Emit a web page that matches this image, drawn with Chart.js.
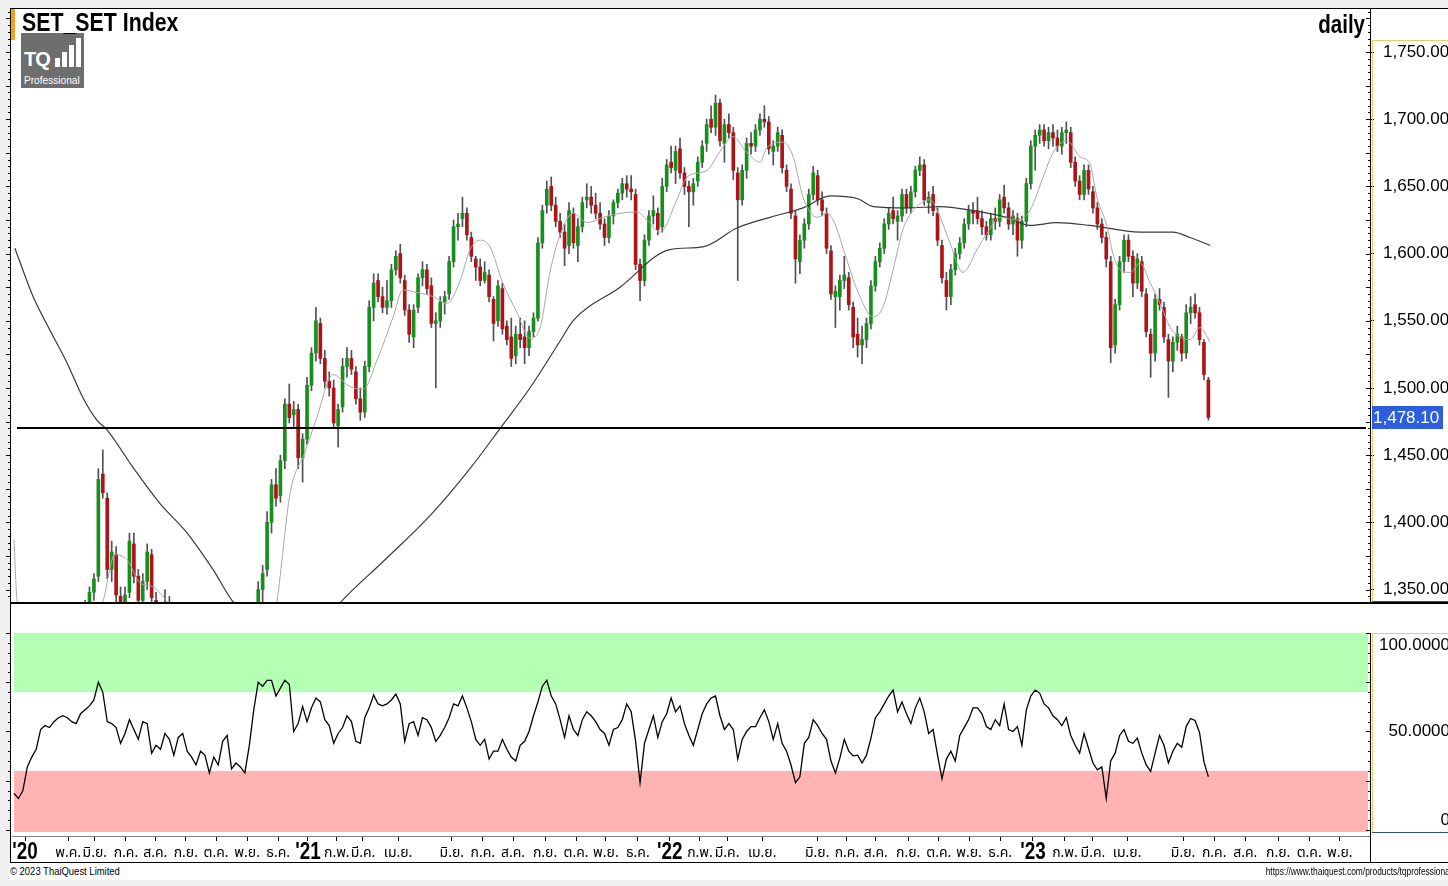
<!DOCTYPE html>
<html>
<head>
<meta charset="utf-8">
<script src="https://cdn.jsdelivr.net/npm/chart.js@4.4.0/dist/chart.umd.min.js"></script>
<style>
  html, body { margin: 0; padding: 0; width: 1448px; height: 886px; overflow: hidden; background: #f0f0f0; font-family: "Liberation Sans", Arial, sans-serif; }
  #sheet { position: absolute; left: 10px; top: 8px; width: 1438px; height: 872px; background: #fff; }
  canvas { position: absolute; left: 0; }
  #priceCanvas { top: 8px; }
  #rsiCanvas { top: 603px; }
  .ln { position: absolute; background: #000; }
  #title { position: absolute; left: 22px; top: 8px; font-weight: bold; font-size: 26px; line-height: 28px; transform: scaleX(0.82); transform-origin: left top; white-space: nowrap; z-index: 2; }
  #period { position: absolute; right: 83px; top: 10px; font-weight: bold; font-size: 25px; line-height: 28px; transform: scaleX(0.82); transform-origin: right top; }
  #accent { position: absolute; left: 11px; top: 9px; width: 4px; height: 31px; background: #f0a020; }
  #logo { position: absolute; left: 21px; top: 33px; width: 63px; height: 55px; background: #6e6e6e; color: #fff; overflow: hidden; z-index: 1; }
  #logo .tq { position: absolute; left: 3px; top: 15px; font-weight: bold; font-size: 20px; letter-spacing: -1px; }
  #logo .pro { position: absolute; left: 3px; top: 41px; font-size: 11px; transform: scaleX(0.92); transform-origin: left top; }
  #logo i { position: absolute; background: #fff; width: 5px; }
  .foot { position: absolute; top: 864px; font-size: 11px; line-height: 14px; white-space: nowrap; color: #000; }
  #copy { left: 10px; transform: scaleX(0.86); transform-origin: left top; }
  #url { right: -4px; transform: scaleX(0.76); transform-origin: right top; }
</style>
</head>
<body>
<div id="sheet"></div>
<canvas id="priceCanvas" width="1448" height="595"></canvas>
<canvas id="rsiCanvas" width="1448" height="259"></canvas>
<div class="ln" style="left:10px;top:8px;width:1438px;height:1px"></div>
<div class="ln" style="left:10px;top:8px;width:1px;height:855px"></div>
<div class="ln" style="left:10px;top:602px;width:1438px;height:2px"></div>
<div class="ln" style="left:10px;top:862px;width:1438px;height:1px"></div>
<div class="ln" style="left:1370px;top:836px;width:1px;height:26px"></div>
<div id="accent"></div>
<div id="logo">
  <span class="tq">TQ</span>
  <i style="left:34px;top:25px;height:9px"></i>
  <i style="left:41px;top:19px;height:15px"></i>
  <i style="left:48px;top:12px;height:22px"></i>
  <i style="left:55px;top:5px;height:29px"></i>
  <span class="pro">Professional</span>
</div>
<div id="title">SET_SET Index</div>
<div id="period">daily</div>
<div class="foot" id="copy">© 2023 ThaiQuest Limited</div>
<div class="foot" id="url">https://www.thaiquest.com/products/tqprofessional</div>

<script>
// ค่าแท่งเทียนอ่านจากภาพ (1 แท่ง = ประมาณ 3 วันทำการ)
const openPrices = [
  1250,1256,1265,1278,1270,1280,1295,1285,1275,1288,
  1298,1306,1300,1295,1312,1320,1328,1336,1348,1360,
  1436,1418,1365,1376,1345,1338,1348,1384,1360,1342,
  1356,1376,1342,1328,1334,1340,1320,1315,1305,1312,
  1306,1295,1282,1272,1280,1270,1255,1260,1242,1235,
  1240,1222,1210,1215,1200,1260,1350,1365,1400,1428,
  1420,1446,1488,1480,1484,1448,1462,1502,1526,1548,
  1522,1505,1500,1472,1486,1516,1522,1512,1492,1482,
  1516,1560,1580,1568,1560,1565,1588,1600,1580,1558,
  1538,1560,1582,1588,1576,1548,1550,1564,1570,1594,
  1620,1626,1630,1612,1596,1590,1580,1584,1566,1550,
  1574,1546,1538,1524,1540,1538,1530,1542,1552,1608,
  1636,1650,1636,1624,1616,1606,1630,1606,1620,1640,
  1642,1636,1630,1622,1612,1628,1638,1645,1652,1648,
  1644,1592,1580,1610,1628,1630,1620,1650,1668,1662,
  1678,1660,1650,1646,1654,1668,1682,1700,1694,1712,
  1682,1696,1690,1660,1640,1662,1682,1680,1692,1700,
  1698,1676,1680,1688,1662,1648,1628,1594,1610,1622,
  1644,1658,1640,1630,1602,1568,1568,1580,1582,1560,
  1540,1532,1536,1548,1576,1594,1604,1622,1632,1624,
  1628,1644,1634,1646,1662,1666,1638,1644,1630,1606,
  1580,1568,1588,1600,1608,1622,1632,1632,1626,1620,
  1614,1626,1624,1642,1634,1622,1626,1610,1624,1652,
  1680,1688,1692,1684,1690,1686,1680,1690,1690,1668,
  1654,1644,1662,1646,1634,1622,1612,1594,1532,1562,
  1594,1610,1598,1578,1594,1570,1540,1526,1566,1560,
  1536,1520,1534,1538,1526,1556,1562,1556,1534,1506
];
const highPrices = [
  1262,1270,1282,1290,1285,1300,1305,1296,1290,1302,
  1312,1318,1310,1315,1325,1332,1342,1352,1362,1440,
  1454,1422,1386,1382,1352,1352,1392,1392,1365,1362,
  1384,1380,1348,1340,1350,1345,1330,1325,1318,1322,
  1315,1302,1290,1285,1290,1278,1266,1268,1252,1248,
  1250,1232,1222,1225,1262,1356,1368,1408,1432,1440,
  1450,1492,1503,1490,1488,1466,1508,1530,1560,1552,
  1528,1512,1506,1488,1522,1530,1528,1516,1500,1520,
  1565,1585,1585,1575,1580,1592,1602,1607,1584,1562,
  1562,1585,1594,1592,1582,1556,1568,1572,1598,1625,
  1630,1642,1634,1616,1598,1596,1594,1588,1568,1580,
  1578,1550,1552,1546,1552,1550,1546,1556,1612,1636,
  1654,1657,1642,1630,1622,1638,1634,1626,1642,1652,
  1650,1645,1638,1626,1632,1640,1648,1656,1658,1658,
  1648,1596,1614,1632,1643,1634,1656,1670,1680,1680,
  1686,1664,1654,1656,1672,1684,1700,1710,1718,1715,
  1700,1704,1694,1664,1666,1686,1690,1696,1704,1710,
  1702,1684,1694,1692,1666,1652,1632,1614,1626,1648,
  1665,1662,1646,1634,1606,1576,1584,1598,1586,1564,
  1552,1546,1552,1580,1598,1608,1626,1634,1642,1632,
  1648,1648,1650,1665,1672,1670,1646,1650,1634,1610,
  1586,1592,1604,1612,1626,1636,1638,1642,1632,1624,
  1630,1634,1644,1651,1638,1632,1630,1628,1656,1684,
  1692,1696,1696,1694,1696,1692,1694,1698,1694,1672,
  1658,1666,1666,1650,1638,1626,1616,1598,1566,1598,
  1614,1614,1602,1600,1598,1574,1544,1570,1574,1564,
  1540,1538,1546,1540,1562,1568,1570,1560,1536,1508
];
const lowPrices = [
  1240,1248,1258,1265,1262,1272,1280,1270,1268,1280,
  1290,1296,1288,1290,1305,1312,1322,1330,1342,1356,
  1418,1358,1356,1340,1328,1330,1344,1355,1336,1338,
  1350,1338,1322,1318,1328,1315,1308,1300,1296,1300,
  1290,1278,1268,1262,1266,1250,1244,1238,1228,1225,
  1218,1205,1198,1195,1195,1255,1340,1360,1392,1412,
  1415,1440,1474,1470,1440,1430,1458,1498,1520,1518,
  1500,1494,1470,1456,1482,1508,1510,1488,1476,1478,
  1512,1550,1564,1556,1555,1560,1584,1578,1554,1534,
  1530,1556,1576,1570,1545,1500,1545,1555,1566,1590,
  1610,1620,1610,1594,1580,1576,1578,1564,1535,1546,
  1540,1532,1516,1518,1530,1518,1524,1538,1550,1604,
  1630,1632,1620,1612,1591,1600,1604,1594,1616,1634,
  1630,1626,1618,1606,1608,1622,1634,1640,1642,1640,
  1588,1565,1576,1606,1622,1614,1616,1646,1660,1652,
  1656,1644,1620,1636,1650,1664,1676,1690,1688,1680,
  1668,1686,1655,1580,1636,1656,1674,1676,1688,1694,
  1674,1666,1676,1660,1646,1626,1578,1585,1604,1618,
  1640,1636,1628,1600,1566,1545,1558,1574,1558,1530,
  1523,1518,1530,1544,1572,1590,1600,1618,1622,1610,
  1624,1630,1630,1642,1658,1636,1630,1628,1606,1578,
  1558,1562,1584,1596,1604,1618,1622,1622,1614,1610,
  1610,1618,1620,1630,1618,1614,1598,1604,1620,1648,
  1662,1682,1680,1678,1680,1676,1674,1682,1664,1650,
  1640,1640,1644,1630,1618,1608,1590,1519,1526,1558,
  1586,1594,1568,1574,1568,1538,1508,1520,1558,1534,
  1493,1512,1528,1520,1522,1548,1552,1532,1506,1476
];
const closePrices = [
  1256,1265,1278,1270,1280,1295,1285,1275,1288,1298,
  1306,1300,1295,1312,1320,1328,1336,1348,1358,1432,
  1422,1365,1378,1346,1338,1346,1386,1360,1342,1356,
  1378,1344,1328,1334,1340,1320,1315,1305,1312,1306,
  1295,1282,1272,1280,1270,1255,1260,1242,1235,1240,
  1222,1210,1215,1200,1258,1350,1362,1400,1428,1418,
  1446,1488,1478,1484,1448,1462,1502,1526,1550,1522,
  1505,1500,1474,1484,1516,1522,1514,1492,1482,1516,
  1560,1578,1568,1560,1565,1588,1598,1582,1558,1540,
  1558,1582,1588,1574,1548,1550,1564,1568,1594,1620,
  1622,1630,1614,1598,1590,1580,1586,1568,1548,1576,
  1544,1536,1522,1540,1536,1530,1542,1552,1608,1632,
  1648,1636,1624,1616,1604,1632,1608,1620,1638,1642,
  1636,1630,1622,1612,1628,1638,1645,1652,1648,1646,
  1592,1580,1610,1628,1632,1618,1650,1666,1664,1676,
  1660,1650,1646,1652,1668,1680,1696,1694,1712,1684,
  1696,1690,1662,1640,1662,1682,1680,1692,1700,1698,
  1678,1680,1690,1664,1650,1630,1596,1610,1622,1644,
  1660,1640,1632,1604,1570,1572,1580,1584,1562,1538,
  1532,1536,1548,1576,1594,1604,1622,1630,1626,1628,
  1644,1634,1646,1662,1666,1640,1642,1632,1610,1582,
  1568,1588,1600,1608,1622,1632,1630,1626,1620,1614,
  1626,1624,1640,1634,1622,1628,1610,1624,1652,1680,
  1688,1692,1684,1690,1686,1680,1690,1692,1668,1654,
  1644,1662,1648,1634,1622,1612,1596,1530,1562,1594,
  1610,1598,1578,1596,1572,1542,1526,1566,1562,1538,
  1520,1534,1540,1526,1556,1560,1556,1536,1510,1478.1
];
const rsiValues = [
  18.6,16,20,32,37,41,51,53,52,55,
  57,58,57,55,54,59,61,63,66,75,
  70,55,54,52,44,49,56,51,46,55,
  54,39,43,41,49,46,38,47,49,40,
  37,33,40,38,29,37,33,45,48,31,
  34,32,29,43,61,75,73,76,76,68,
  72,76,74,50,54,62.7,55,62,67,65,
  56,53,44,49,52,58,55,45,44,57,
  62,68.6,64,63,64,66,69,64,45,54,
  55,48,57,56,52,45,48,52,57,64,
  63,68,62,55,46,43,46,36,40,40,
  46,41,37,35,43,45,50,58,65,73,
  76,68,64,56,47,58,51,48,56,60,
  58,55,51,49,43,51,52,56,64,60,
  45,24,44,51,58,47,55,59,67,60,
  63,54,48,43,51,59,64,67,68,58,
  51,54,51,36,46,50,52.5,52.5,57,61,
  55,46,54,44,40,33,24,27,44,47,
  56,53,49,46,35,29,36.5,46,40,37.6,
  38,34,38,46.6,57,60,64,68,71,60,
  65,59,54,62,67,60,49,51,38,26,
  36,40,35,48,52,56,62,62,59,52.5,
  51,56,53,64,51,50,52.5,43,61,68,
  71,69.5,64,62,58,56,53,57,48,43,
  39,49,41.5,34,30.5,32,16,35,39,48,
  51,45,44,46.6,39,33,29.7,39,48,43,
  34,40,44,42,52.5,56.6,55.6,49.5,34.6,27
];

// เส้นค่าเฉลี่ย (ตำแหน่งแท่ง, ค่า) อ่านจากภาพ
const maShortIdx = [0,0.7,6,12,18,20,22.7,25.5,28.4,31.3,34.5,40,46,52,59.2,62.2,65.5,68.2,71.8,75.7,
  78.6,81.8,85.4,87.6,90.8,94.4,97.5,100.5,102.7,105,107.2,110.1,113.3,116.2,118.5,120.7,123,125.9,129.1,132.7,
  136.5,140.3,142.6,145.5,149.3,151.6,156.1,159,161.9,165.1,168,169.6,173.2,175.5,177.7,180.9,183.1,184.5,187.6,189.9,
  193.5,195.7,198,200.2,202.5,206.3,208.6,210.8,213.7,216.9,219.1,222.1,225.9,228.8,231.8,234,237.2,240.1,242.3,243.9,
  246.2,247.5,249.1,251.4,253.6,255.9,258.1,260.4,262.6,264.9,267.1,269.4];
const maShortVal = [1387,1341,1290,1295,1330,1341,1376,1372,1355,1352,1341,1320,1280,1235,1341,1422,1452,1478,1510,1501,
  1499,1521,1553,1573,1571,1568,1563,1580,1603,1610,1605,1578,1556,1537,1545,1586,1614,1630,1623,1627,
  1630,1631,1625,1616,1640,1657,1662,1676,1687,1675,1668,1679,1683,1672,1642,1627,1630,1625,1595,1573,
  1553,1560,1588,1618,1632,1640,1627,1608,1586,1603,1615,1627,1625,1632,1657,1675,1684,1672,1667,1642,
  1620,1600,1588,1586,1593,1578,1563,1545,1538,1536,1545,1534];
const maLongIdx = [0.2,4.3,8.1,11.9,15.5,18.7,20.9,26.8,32.9,39,44.8,49.3,55,62,68,73.4,83.5,93.7,102.7,109.5,
  116.2,123,125.9,136.5,147.7,155.2,162.8,170.3,177.7,183.8,189.9,193.5,201.1,208.6,216,223.6,228.8,234.9,242.3,253.6,
  261,264.9,269.4];
const maLongVal = [1604,1568,1543,1519,1493,1476,1469,1441,1414,1392,1365,1341,1322,1312,1318,1340,1372,1405,1440,1470,
  1500,1535,1550,1575,1603,1605,1619,1627,1634,1643,1641,1635,1634,1635,1632,1627,1621,1623,1621,1616,
  1616,1612,1606];

// ป้ายเดือนบนแกนเวลา
const monthTickIdx = [2.5,12.2,18.2,25.2,31.8,38.7,45.5,52.5,59.5,66.2,72.7,78.6,86.5,98.6,105.6,112.4,119.6,126.6,133.3,140.5,
  147.7,154.5,160.6,168.5,180.9,187.6,194.1,201.4,208.3,215.1,222.1,229.5,236.7,243,250.7,263.3,270.3,277.3,284.7,291.7,298.6];
const monthTickLabels = ["'20","พ.ค.","มิ.ย.","ก.ค.","ส.ค.","ก.ย.","ต.ค.","พ.ย.","ธ.ค.","'21","ก.พ.","มี.ค.","เม.ย.",
  "มิ.ย.","ก.ค.","ส.ค.","ก.ย.","ต.ค.","พ.ย.","ธ.ค.","'22","ก.พ.","มี.ค.","เม.ย.","มิ.ย.","ก.ค.","ส.ค.","ก.ย.","ต.ค.","พ.ย.","ธ.ค.",
  "'23","ก.พ.","มี.ค.","เม.ย.","มิ.ย.","ก.ค.","ส.ค.","ก.ย.","ต.ค.","พ.ย."];

const priceTickValues = [1350,1400,1450,1500,1550,1600,1650,1700,1750];
const rsiTickValues = [100, 50, 0];
const supportLevel = 1470;
const rsiUpper = 70, rsiLower = 30;

const X_MIN = -0.45, X_MAX = 305.4;
const PRICE_MIN = 1340.03, PRICE_MAX = 1782.74;
const RSI_MIN = -3.05, RSI_MAX = 100;

const LABEL_FONT = '17px "Liberation Sans", Arial, sans-serif';
const THAI_FONT = '"Noto Sans Thai", "Noto Sans Thai UI", Loma, Garuda, Tahoma, "DejaVu Sans", sans-serif';
const fmtPrice = new Intl.NumberFormat('en-US', { minimumFractionDigits: 2, maximumFractionDigits: 2 });

function sideTicks(ctx, yScale, xRight, from, to, step, bigStep) {
    ctx.save();
    ctx.strokeStyle = '#000';
    ctx.lineWidth = 1;
    ctx.beginPath();
    for (let v = Math.ceil(from / step) * step; v <= to; v += step) {
        const py = Math.round(yScale.getPixelForValue(v)) + 0.5;
        const len = (v % bigStep === 0) ? 4 : 2;
        ctx.moveTo(xRight - len, py);
        ctx.lineTo(xRight, py);
    }
    ctx.stroke();
    ctx.restore();
}

const priceDecor = {
    id: 'priceDecor',
    afterDatasetsDraw(chart) {
        const { ctx, chartArea: a, scales: { y } } = chart;
        const py = Math.round(y.getPixelForValue(supportLevel));
        ctx.save();
        ctx.fillStyle = '#000';
        ctx.fillRect(a.left + 5, py - 1, a.right - a.left - 9, 2);
        ctx.restore();
    },
    afterDraw(chart) {
        const { ctx, chartArea: a, scales: { y } } = chart;
        // petits traits sur les bords
        sideTicks(ctx, y, 10, PRICE_MIN, PRICE_MAX, 5, 25);
        sideTicks(ctx, y, a.right, PRICE_MIN, PRICE_MAX, 5, 25);
        // cadre jaune de l'axe
        const boxTop = Math.round(y.getPixelForValue(priceTickValues[priceTickValues.length - 1])) - 12;
        ctx.save();
        ctx.fillStyle = '#e9c86a';
        ctx.fillRect(a.right + 2, boxTop, 1, a.bottom - boxTop);
        ctx.fillRect(a.right + 2, boxTop, chart.width - a.right, 1);
        ctx.fillStyle = '#2b4aa8';
        ctx.fillRect(a.right + 2, a.bottom - 2, chart.width - a.right, 1);
        // dernier cours
        const last = closePrices[closePrices.length - 1];
        const ly = y.getPixelForValue(last);
        ctx.fillStyle = '#2d5ee0';
        ctx.fillRect(a.right + 2, Math.round(ly) - 11, 71, 23);
        ctx.fillStyle = '#fff';
        ctx.font = LABEL_FONT;
        ctx.textBaseline = 'middle';
        ctx.textAlign = 'left';
        ctx.fillText(fmtPrice.format(last), a.right + 3, ly + 1);
        ctx.restore();
    }
};

const rsiDecor = {
    id: 'rsiDecor',
    beforeDatasetsDraw(chart) {
        const { ctx, chartArea: a, scales: { y } } = chart;
        const w = a.right - a.left - 4;
        ctx.save();
        ctx.fillStyle = '#b3ffb3';
        ctx.fillRect(a.left + 2, y.getPixelForValue(RSI_MAX), w, y.getPixelForValue(rsiUpper) - y.getPixelForValue(RSI_MAX));
        ctx.fillStyle = '#ffb3b3';
        ctx.fillRect(a.left + 2, y.getPixelForValue(rsiLower), w, y.getPixelForValue(0) - y.getPixelForValue(rsiLower) + 2);
        ctx.restore();
    },
    afterDraw(chart) {
        const { ctx, chartArea: a, scales: { x, y } } = chart;
        sideTicks(ctx, y, 10, 0, RSI_MAX, 5, 25);
        sideTicks(ctx, y, a.right, 0, RSI_MAX, 5, 25);
        ctx.save();
        ctx.fillStyle = '#e9c86a';
        const top = Math.round(y.getPixelForValue(RSI_MAX));
        const bottom = Math.round(y.getPixelForValue(0)) + 2;
        ctx.fillRect(a.right + 2, top, 1, bottom - top);
        ctx.fillRect(a.right + 2, top, chart.width - a.right, 1);
        ctx.fillStyle = '#2b4aa8';
        ctx.fillRect(a.right + 2, bottom, chart.width - a.right, 1);

        // étiquettes de l'axe RSI
        ctx.fillStyle = '#000';
        ctx.font = LABEL_FONT;
        ctx.textAlign = 'right';
        rsiTickValues.forEach(v => {
            const py = y.getPixelForValue(v);
            const text = v === 0 ? '0' : v.toFixed(4);
            if (v === RSI_MAX) { ctx.textBaseline = 'top'; ctx.fillText(text, 1450, py + 4); }
            else if (v === 0) { ctx.textBaseline = 'bottom'; ctx.fillText(text, 1450, py - 1); }
            else { ctx.textBaseline = 'middle'; ctx.fillText(text, 1450, py); }
        });

        // étiquettes des mois
        ctx.textAlign = 'center';
        ctx.textBaseline = 'alphabetic';
        monthTickIdx.forEach((v, i) => {
            const label = monthTickLabels[i];
            const px = x.getPixelForValue(v);
            if (label.startsWith("'")) {
                ctx.save();
                ctx.translate(px, 256);
                ctx.scale(0.82, 1);
                ctx.font = 'bold 23px "Liberation Sans Narrow", "Liberation Sans", Arial, sans-serif';
                ctx.fillText(label, 0, 0);
                ctx.restore();
            } else {
                ctx.font = '14px ' + THAI_FONT;
                ctx.fillText(label, px, 254);
            }
        });
        ctx.restore();
    }
};

const wickData = highPrices.map((h, i) => ({ x: i, y: [lowPrices[i], h] }));
const bodyData = openPrices.map((o, i) => ({ x: i, y: [o, closePrices[i]] }));
const bodyColors = openPrices.map((o, i) => closePrices[i] >= o ? '#15901d' : '#ad1419');

new Chart(document.getElementById('priceCanvas'), {
    type: 'bar',
    data: {
        datasets: [
            {
                type: 'line', data: maShortIdx.map((x, i) => ({ x, y: maShortVal[i] })),
                borderColor: '#a8a8a8', borderWidth: 1, pointRadius: 0,
                cubicInterpolationMode: 'monotone', order: 0, clip: 0
            },
            {
                type: 'line', data: maLongIdx.map((x, i) => ({ x, y: maLongVal[i] })),
                borderColor: '#3a3a3a', borderWidth: 1.2, pointRadius: 0,
                cubicInterpolationMode: 'monotone', order: 0, clip: 0
            },
            {
                data: bodyData, backgroundColor: bodyColors, borderWidth: 0,
                barThickness: 3, minBarLength: 1, grouped: false, order: 1, clip: 0
            },
            {
                data: wickData, backgroundColor: '#505050', borderWidth: 0,
                barThickness: 1, grouped: false, order: 2, clip: 0
            }
        ]
    },
    options: {
        responsive: false,
        animation: false,
        events: [],
        layout: { padding: { left: 12, right: 0, top: 0, bottom: 0 } },
        plugins: { legend: { display: false }, tooltip: { enabled: false } },
        scales: {
            x: { type: 'linear', min: X_MIN, max: X_MAX, offset: false, display: false },
            y: {
                position: 'right', min: PRICE_MIN, max: PRICE_MAX, beginAtZero: false,
                afterBuildTicks: s => { s.ticks = priceTickValues.map(v => ({ value: v })); },
                ticks: {
                    color: '#000', padding: 9, autoSkip: false,
                    font: { family: '"Liberation Sans", Arial, sans-serif', size: 17 },
                    callback: v => fmtPrice.format(v)
                },
                grid: { drawOnChartArea: false, drawTicks: true, tickLength: 4, color: '#000' },
                border: { display: true, color: '#000', width: 1 },
                afterFit: s => { s.width = 78; s.paddingTop = 0; s.paddingBottom = 0; }
            }
        }
    },
    plugins: [priceDecor]
});

new Chart(document.getElementById('rsiCanvas'), {
    type: 'line',
    data: {
        datasets: [{
            data: rsiValues.map((v, i) => ({ x: i, y: v })),
            borderColor: '#000', borderWidth: 1.3, pointRadius: 0, tension: 0, clip: 0
        }]
    },
    options: {
        responsive: false,
        animation: false,
        events: [],
        layout: { padding: { left: 12, right: 0, top: 30, bottom: 0 } },
        plugins: { legend: { display: false }, tooltip: { enabled: false } },
        scales: {
            x: {
                type: 'linear', min: X_MIN, max: X_MAX, offset: false,
                afterBuildTicks: s => { s.ticks = monthTickIdx.map(v => ({ value: v })); },
                ticks: { display: false },
                grid: { drawOnChartArea: false, drawTicks: true, tickLength: 5, color: '#000' },
                border: { display: true, color: '#808080', width: 1 },
                afterFit: s => { s.height = 26; s.paddingLeft = 0; s.paddingRight = 0; }
            },
            y: {
                position: 'right', min: RSI_MIN, max: RSI_MAX,
                ticks: { display: false },
                grid: { display: false },
                border: { display: true, color: '#000', width: 1 },
                afterFit: s => { s.width = 78; s.paddingTop = 0; s.paddingBottom = 0; }
            }
        }
    },
    plugins: [rsiDecor]
});
</script>
</body>
</html>
